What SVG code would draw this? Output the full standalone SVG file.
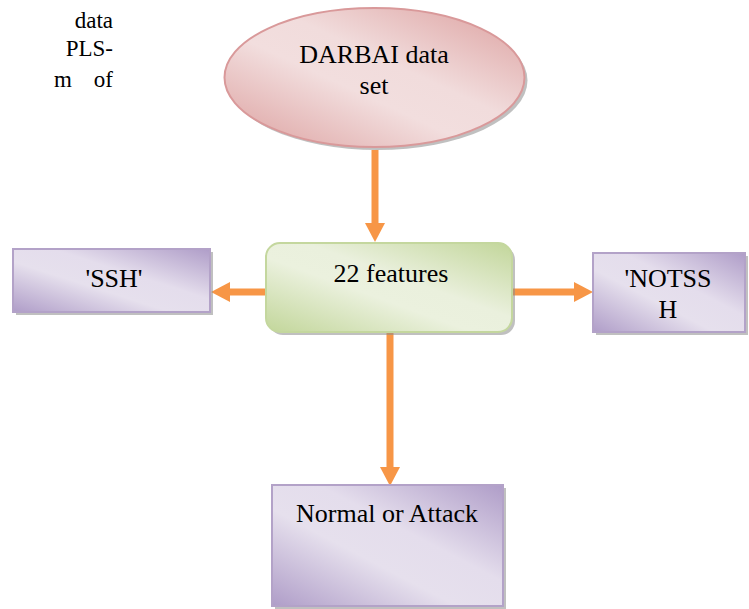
<svg xmlns="http://www.w3.org/2000/svg" width="749" height="609" viewBox="0 0 749 609">
  <style>
    text { font-family: "Liberation Serif", "Times New Roman", Times, serif; fill: #000; }
    .lbl { font-size: 26px; text-anchor: middle; }
    .frag { font-size: 23px; }
    .shadow { fill: #8c8c8c; opacity: 0.55; }
    .purple { fill: url(#gPurple); stroke: #B3A2C8; stroke-width: 2; }
    .pink { fill: url(#gPink); stroke: #D9999A; stroke-width: 2; }
    .green { fill: url(#gGreen); stroke: #C4D79E; stroke-width: 2; }
    .conn { stroke: #F79646; stroke-width: 7; fill: none; marker-end: url(#head); }
  </style>
  <defs>
    <linearGradient id="gPurple" x1="1" y1="0" x2="0" y2="1">
      <stop offset="0" stop-color="#AF9DC8"/>
      <stop offset="0.4" stop-color="#E4DDEC"/>
      <stop offset="0.6" stop-color="#E6E0ED"/>
      <stop offset="1" stop-color="#AF9DC8"/>
    </linearGradient>
    <linearGradient id="gPink" x1="1" y1="0" x2="0" y2="1">
      <stop offset="0" stop-color="#DC9F9E"/>
      <stop offset="0.42" stop-color="#F1DCDC"/>
      <stop offset="0.58" stop-color="#F2DEDE"/>
      <stop offset="1" stop-color="#DC9F9E"/>
    </linearGradient>
    <linearGradient id="gGreen" x1="1" y1="0" x2="0" y2="1">
      <stop offset="0" stop-color="#C2D69A"/>
      <stop offset="0.42" stop-color="#EAF0DD"/>
      <stop offset="0.58" stop-color="#EBF1DE"/>
      <stop offset="1" stop-color="#C2D69A"/>
    </linearGradient>
    <marker id="head" markerUnits="userSpaceOnUse" markerWidth="20" markerHeight="20" refX="0" refY="10" orient="auto">
      <path d="M0,0 L19,10 L0,20 z" fill="#F79646"/>
    </marker>
  </defs>

  <!-- running text at the top left -->
  <g id="body-text">
    <text class="frag" x="113" y="28" text-anchor="end">data</text>
    <text class="frag" x="113" y="56" text-anchor="end">PLS-</text>
    <text class="frag" x="54" y="87">m</text>
    <text class="frag" x="113" y="87" text-anchor="end">of</text>
  </g>

  <g id="connectors">
    <line class="conn" x1="375" y1="150" x2="375" y2="223"/>
    <line class="conn" x1="267" y1="292" x2="230" y2="292"/>
    <line class="conn" x1="511" y1="292" x2="574" y2="292"/>
    <line class="conn" x1="390" y1="332" x2="390" y2="467"/>
  </g>

  <g id="dataset">
    <ellipse class="shadow" cx="377.5" cy="80.5" rx="150" ry="69.5"/>
    <ellipse class="pink" cx="374.5" cy="77.5" rx="150" ry="69.5"/>
    <text class="lbl" x="374" y="63">DARBAI data</text>
    <text class="lbl" x="374" y="94">set</text>
  </g>

  <g id="features">
    <rect class="shadow" x="269" y="246" width="246" height="89" rx="14"/>
    <rect class="green" x="266" y="243" width="246" height="89" rx="14"/>
    <text class="lbl" x="391" y="282">22 features</text>
  </g>

  <g id="ssh">
    <rect class="shadow" x="16" y="252" width="197" height="63"/>
    <rect class="purple" x="13" y="249" width="197" height="63"/>
    <text class="lbl" x="114" y="287">'SSH'</text>
  </g>

  <g id="notssh">
    <rect class="shadow" x="596" y="256" width="152" height="79"/>
    <rect class="purple" x="593" y="253" width="152" height="79"/>
    <text class="lbl" x="668" y="287">'NOTSS</text>
    <text class="lbl" x="668" y="318">H</text>
  </g>

  <g id="result">
    <rect class="shadow" x="275" y="488" width="231" height="121"/>
    <rect class="purple" x="272" y="485" width="231" height="121"/>
    <text class="lbl" x="387" y="522">Normal or Attack</text>
  </g>
</svg>
